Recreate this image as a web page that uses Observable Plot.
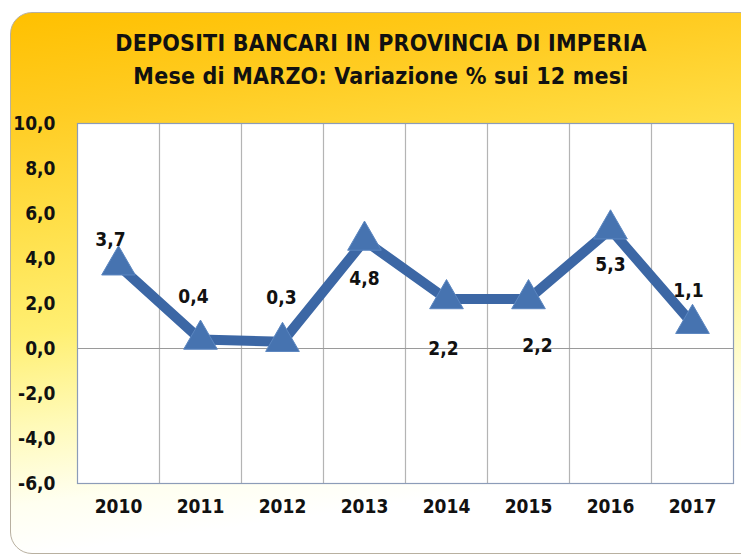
<!DOCTYPE html>
<html><head><meta charset="utf-8">
<script src="https://cdn.jsdelivr.net/npm/d3@7"></script>
<script src="https://cdn.jsdelivr.net/npm/@observablehq/plot@0.6"></script>
<style>
html,body{margin:0;padding:0;background:#fff;}
#wrap{position:relative;width:741px;height:557px;overflow:hidden;background:#fff;}
#bg{position:absolute;left:10px;top:12px;width:780px;height:540px;border:1px solid #b8b0a0;border-radius:22px;
 background:linear-gradient(172deg,#FFC000 0%,#FFCC22 16%,#FFDF48 33%,#FFEF72 50%,#FFFAB8 64%,#FFFFF0 76%,#FFFFFF 84%);}
#title{position:absolute;left:0;top:27px;width:762px;text-align:center;font-family:"DejaVu Sans Condensed","DejaVu Sans",sans-serif;font-weight:bold;color:#111;}
#title div{font-size:23px;line-height:33px;letter-spacing:0.2px;white-space:nowrap;}
#chart{position:absolute;left:0;top:0;}
</style></head>
<body><div id="wrap"><div id="bg"></div>
<div id="title"><div>DEPOSITI BANCARI IN PROVINCIA DI IMPERIA</div><div>Mese di MARZO: Variazione % sui 12 mesi</div></div>
<div id="chart"></div></div>
<script>
const years = [2010, 2011, 2012, 2013, 2014, 2015, 2016, 2017];
const values = [3.7, 0.4, 0.3, 4.8, 2.2, 2.2, 5.3, 1.1];
const yTicks = [10, 8, 6, 4, 2, 0, -2, -4, -6];
// label placement offsets (pixels), presentation only
const labelDx = [-8, -7, -1, 0, -3, 9, 0, -4];
const labelDy = [-25, -43, -44, 38, 50, 47, 36, -33];

const data = years.map((y, i) => ({year: y, value: values[i], i}));
const fmt = d => d.toFixed(1).replace(".", ",");
const boundaries = years.map(y => y - 0.5).concat([years[years.length - 1] + 0.5]);
const FONT = "'DejaVu Sans Condensed', 'DejaVu Sans', sans-serif";

const chart = Plot.plot({
  width: 741, height: 557,
  marginTop: 123, marginBottom: 74, marginLeft: 77, marginRight: 8,
  style: {background: "transparent", fontFamily: FONT},
  x: {domain: [2009.5, 2017.5], label: null},
  y: {domain: [-6, 10], label: null},
  marks: [
    Plot.frame({fill: "white", stroke: "none"}),
    Plot.ruleX(boundaries.slice(1, -1), {stroke: "#b4b4b4", strokeWidth: 1.2}),
    Plot.ruleY([0], {stroke: "#9a9a9a", strokeWidth: 1.2}),
    Plot.frame({stroke: "#8c9cb8", strokeWidth: 1.2}),
    Plot.line(data, {x: "year", y: "value", stroke: "#3C67A5", strokeWidth: 10, strokeLinejoin: "miter"}),
    Plot.dot(data, {x: "year", y: "value", symbol: "triangle", r: 12.5, fill: "#4673B0", stroke: "#5b86c0", strokeWidth: 1}),
    ...data.map(d => Plot.text([d], {x: "year", y: "value", text: d => fmt(d.value), dx: labelDx[d.i], dy: labelDy[d.i], fontSize: 19, fontWeight: "bold", fill: "#111"})),
    Plot.axisX({ticks: years, tickFormat: d => String(d), tickSize: 0, tickPadding: 16, fontSize: 19, fontWeight: "bold", fill: "#111", label: null}),
    Plot.axisY({ticks: yTicks, tickFormat: fmt, tickSize: 0, tickPadding: 22, fontSize: 19, fontWeight: "bold", fill: "#111", label: null})
  ]
});
document.getElementById("chart").appendChild(chart);
</script></body></html>
